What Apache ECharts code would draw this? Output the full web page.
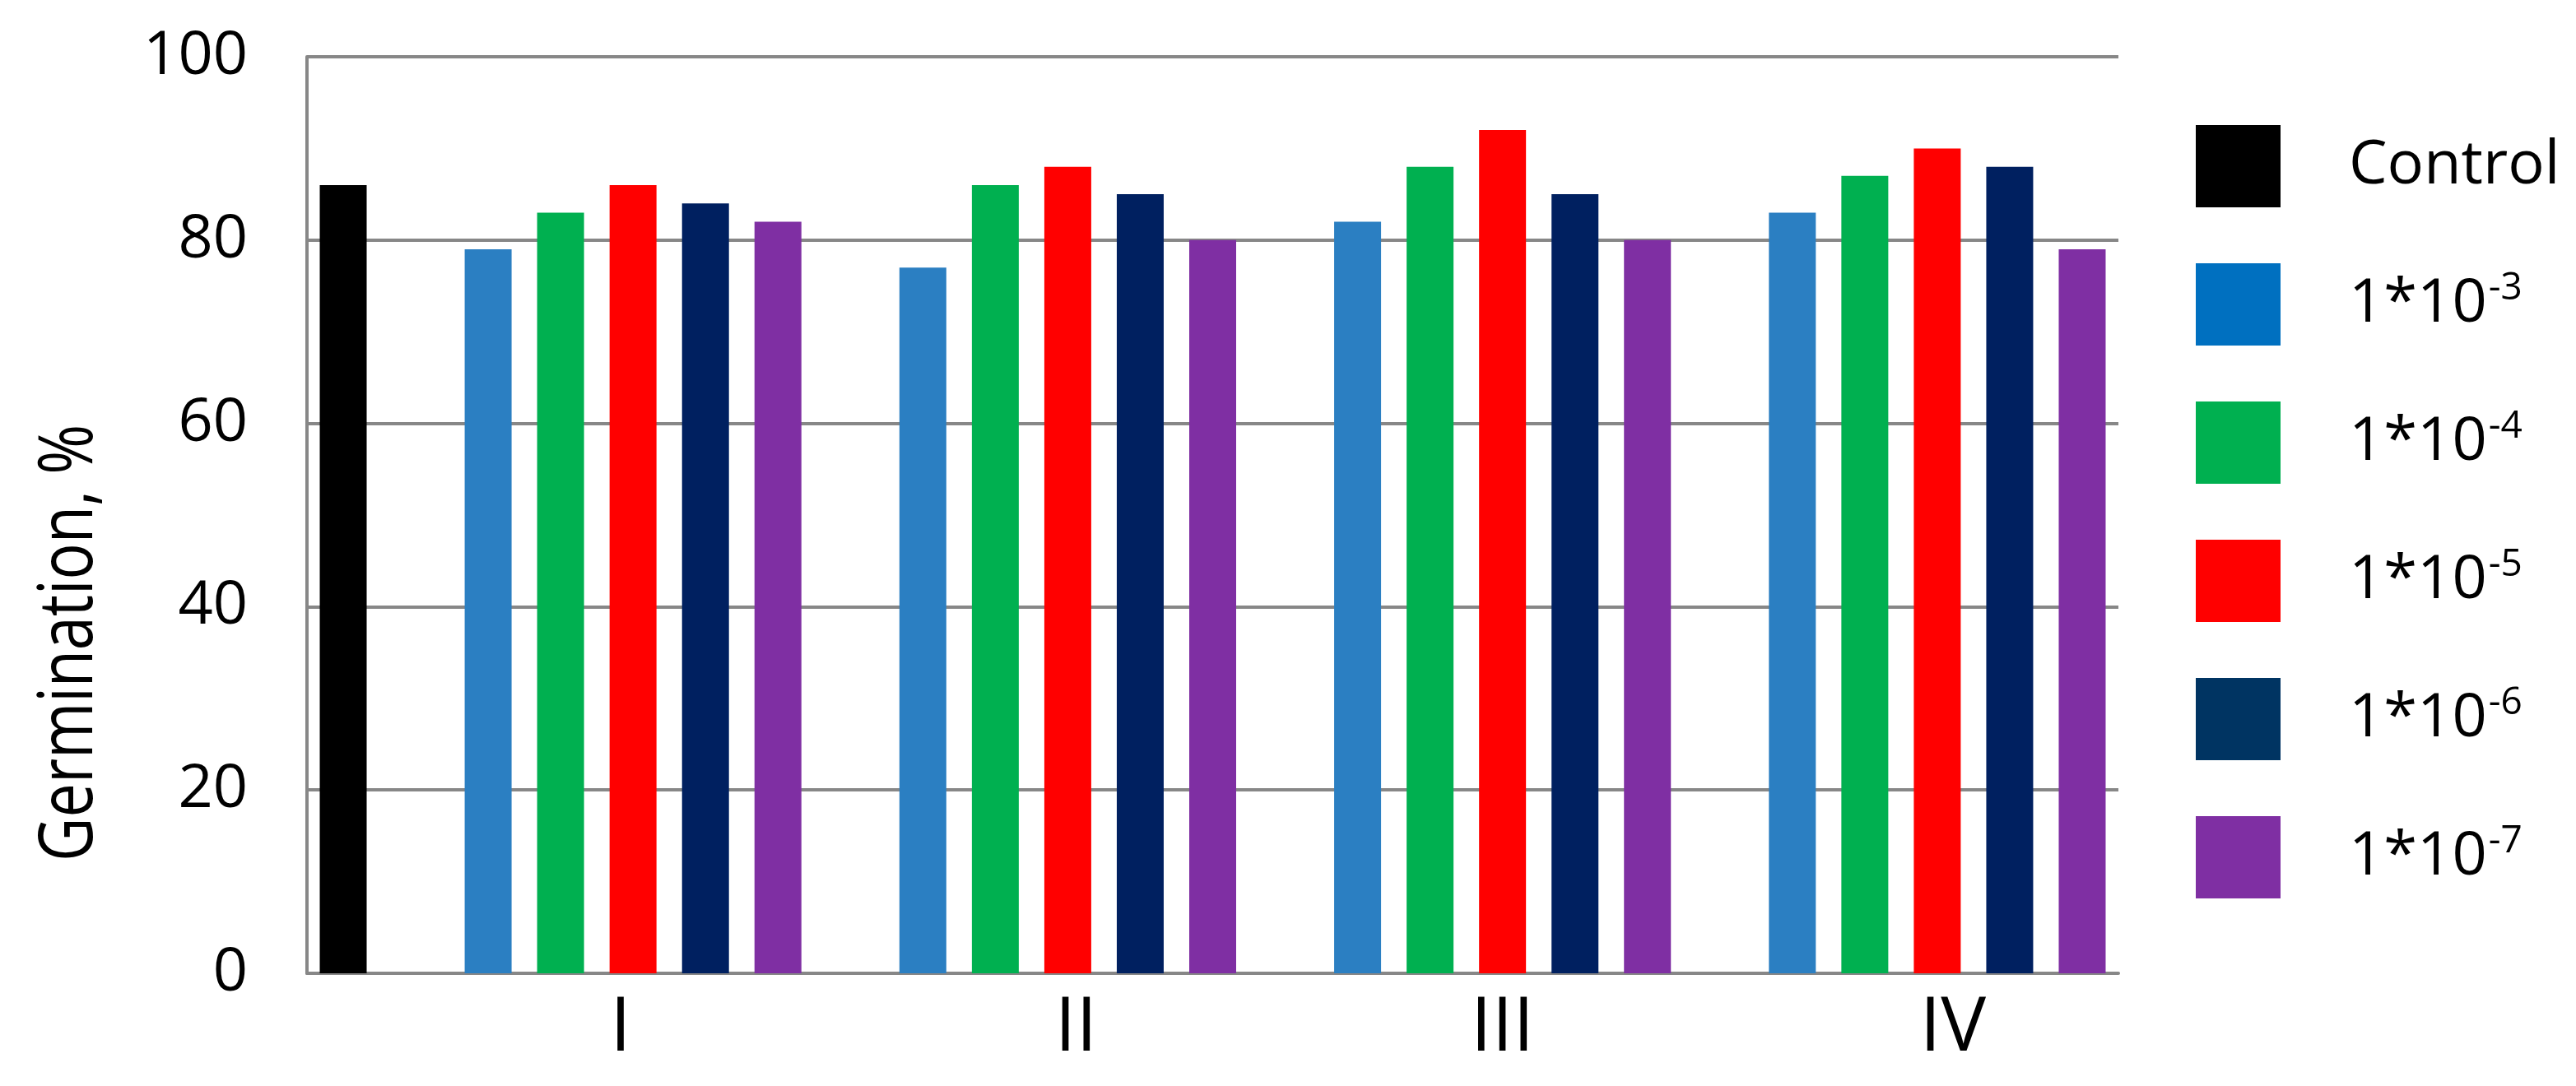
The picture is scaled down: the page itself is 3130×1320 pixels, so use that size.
<!DOCTYPE html>
<html>
<head>
<meta charset="utf-8">
<script src="https://cdn.jsdelivr.net/npm/echarts@6/dist/echarts.min.js"></script>
<style>
html,body{margin:0;padding:0;background:#fff;}
#chart{width:3130px;height:1320px;}
</style>
</head>
<body>
<div id="chart"></div>
<script>
// ---- data ----
const groups = ['I', 'II', 'III', 'IV'];
const controlName = 'Control';
const controlValue = 86;
const concBase = ['1*10', '1*10', '1*10', '1*10', '1*10'];
const concExp = ['-3', '-4', '-5', '-6', '-7'];
const conc1e3 = [79, 77, 82, 83];
const conc1e4 = [83, 86, 88, 87];
const conc1e5 = [86, 88, 92, 90];
const conc1e6 = [84, 85, 85, 88];
const conc1e7 = [82, 80, 80, 79];
const yTicks = [0, 20, 40, 60, 80, 100];
const yTitle = 'Germination, %';

// ---- styles ----
const colors = ['#000000', '#2B7FC2', '#00B050', '#FF0000', '#002060', '#7F2FA3'];
const legendColors = ['#000000', '#0070C0', '#00B050', '#FF0000', '#003462', '#7F2FA3'];
const FONT = '"Open Sans", "Liberation Sans", sans-serif';
// small horizontal nudges of the group labels (px, + = right)
const labelNudge = [-15, 10, 0, 19];

// slot layout: control slot, gap, then 5 bars per group separated by a gap slot
const concSeries = [conc1e3, conc1e4, conc1e5, conc1e6, conc1e7];
const nSlots = 1 + groups.length * 6;
const slots = [];
for (let i = 0; i < nSlots; i++) slots.push('');
groups.forEach((g, gi) => { slots[2 + gi * 6 + 2] = g; });

const seriesNames = [controlName].concat(concBase.map((b, i) => b + concExp[i]));

function blank() { const a = []; for (let i = 0; i < nSlots; i++) a.push(null); return a; }
const seriesData = [];
const ctrl = blank(); ctrl[0] = controlValue; seriesData.push(ctrl);
concSeries.forEach((vals, k) => {
  const d = blank();
  vals.forEach((v, gi) => { d[2 + gi * 6 + k] = v; });
  seriesData.push(d);
});

const labelRich = {};
labelNudge.forEach((n, i) => {
  labelRich['g' + i] = {
    fontSize: 92, fontFamily: FONT, color: '#000',
    padding: n >= 0 ? [0, 0, 0, 2 * n] : [0, -2 * n, 0, 0]
  };
});

const chart = echarts.init(document.getElementById('chart'), null, {renderer: 'canvas'});
const option = {
  backgroundColor: '#ffffff',
  animation: false,
  grid: {left: 373, right: 556, top: 69, bottom: 137, containLabel: false},
  xAxis: {
    type: 'category',
    data: slots,
    boundaryGap: true,
    axisLine: {show: true, lineStyle: {color: '#878787', width: 4}},
    axisTick: {show: false},
    axisLabel: {
      interval: 0, margin: 22, fontSize: 92, fontFamily: FONT, color: '#000',
      formatter: function (v) {
        const gi = groups.indexOf(v);
        if (gi < 0) return '';
        return '{g' + gi + '|' + v + '}';
      },
      rich: labelRich
    },
    splitLine: {show: false}
  },
  yAxis: {
    type: 'value',
    min: yTicks[0], max: yTicks[yTicks.length - 1], interval: yTicks[1] - yTicks[0],
    axisLine: {show: true, lineStyle: {color: '#878787', width: 4}},
    axisTick: {show: false},
    axisLabel: {margin: 72, fontSize: 74, fontFamily: FONT, color: '#000'},
    splitLine: {show: true, lineStyle: {color: '#878787', width: 4}}
  },
  legend: {
    orient: 'vertical',
    left: 2663, top: 147,
    itemWidth: 103, itemHeight: 100, itemGap: 68,
    icon: 'rect',
    data: seriesNames.map((n, i) => ({name: n, itemStyle: {color: legendColors[i]}})),
    formatter: function (name) {
      const i = seriesNames.indexOf(name);
      if (i === 0) return '{b|' + name + '}';
      return '{b|' + concBase[i - 1] + '}{s|' + concExp[i - 1] + '}';
    },
    textStyle: {
      padding: [0, 0, 0, 78],
      rich: {
        b: {fontSize: 74, fontFamily: FONT, color: '#000', lineHeight: 90},
        s: {fontSize: 46, fontFamily: FONT, color: '#000', lineHeight: 90, padding: [0, 0, 38, 2]}
      }
    }
  },
  series: seriesData.map((d, i) => ({
    name: seriesNames[i],
    type: 'bar',
    data: d,
    barWidth: 57,
    barGap: '-100%',
    itemStyle: {color: colors[i]}
  })),
  graphic: [{
    type: 'text',
    left: 40, top: 516,
    style: {text: yTitle, fontSize: 92, fontFamily: FONT, fill: '#000'},
    rotation: Math.PI / 2,
    scaleX: 0.8
  }]
};
chart.setOption(option);
</script>
</body>
</html>
